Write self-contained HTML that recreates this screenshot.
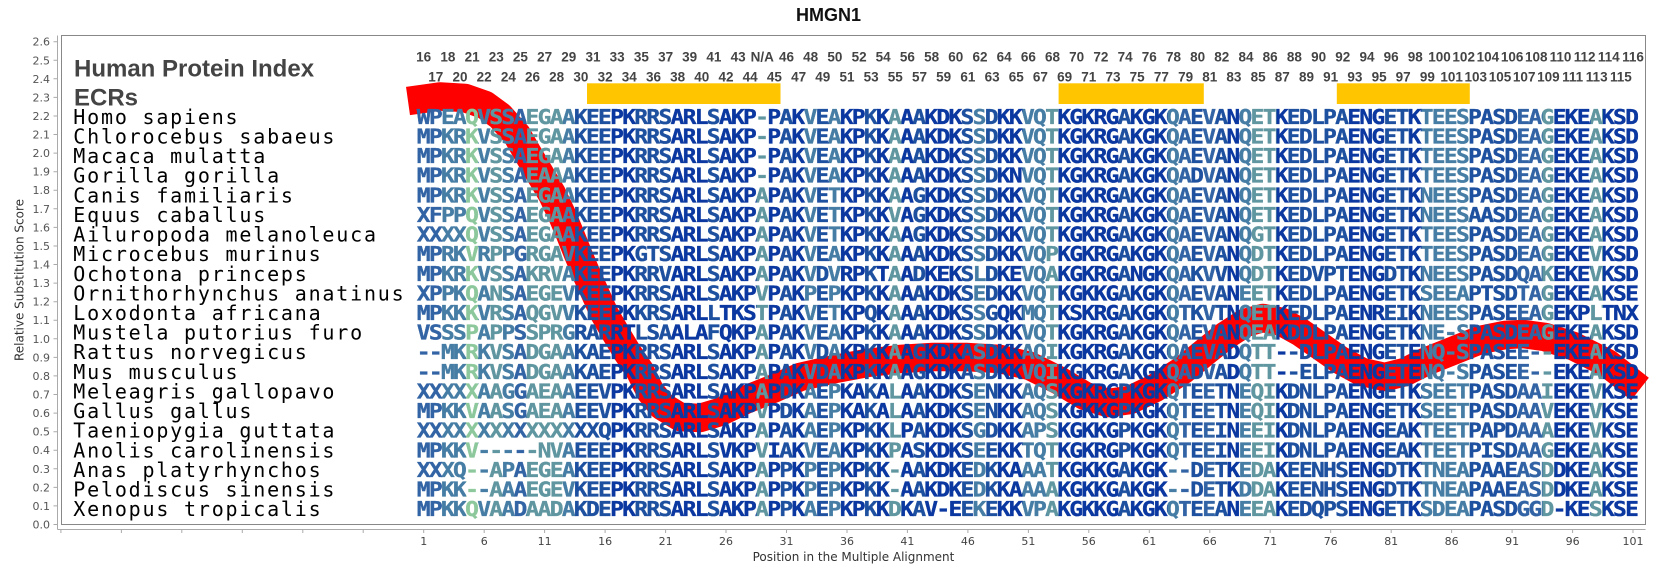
<!DOCTYPE html>
<html><head><meta charset="utf-8"><style>
body{margin:0;background:#fff}
svg{display:block}
.sp{font-family:"DejaVu Sans Mono",monospace;font-size:20px;letter-spacing:1.8px;fill:#000}
.sq{font-family:"DejaVu Sans Mono",monospace;font-weight:bold;font-size:20.5px;letter-spacing:-1.545px}
.ix{font-family:"Liberation Sans",sans-serif;font-weight:bold;font-size:13.5px;fill:#444;text-anchor:middle}
.ax{font-family:"DejaVu Sans",sans-serif;font-size:11px;fill:#555}
.hd{font-family:"Liberation Sans",sans-serif;font-weight:bold;font-size:24px;fill:#444}
</style></head><body>
<svg width="1657" height="575" viewBox="0 0 1657 575" xmlns="http://www.w3.org/2000/svg">
<defs>
<linearGradient id="cg" gradientUnits="userSpaceOnUse" x1="372.90" y1="0" x2="1463.44" y2="0">
<stop offset="0%" stop-color="#3264a5"/><stop offset="1.980%" stop-color="#3264a5"/>
<stop offset="1.980%" stop-color="#467da5"/><stop offset="3.960%" stop-color="#467da5"/>
<stop offset="3.960%" stop-color="#8cc89b"/><stop offset="4.950%" stop-color="#8cc89b"/>
<stop offset="4.950%" stop-color="#467da5"/><stop offset="5.941%" stop-color="#467da5"/>
<stop offset="5.941%" stop-color="#5f96a0"/><stop offset="6.931%" stop-color="#5f96a0"/>
<stop offset="6.931%" stop-color="#467da5"/><stop offset="7.921%" stop-color="#467da5"/>
<stop offset="7.921%" stop-color="#3264a5"/><stop offset="8.911%" stop-color="#3264a5"/>
<stop offset="8.911%" stop-color="#5f96a0"/><stop offset="11.881%" stop-color="#5f96a0"/>
<stop offset="11.881%" stop-color="#467da5"/><stop offset="12.871%" stop-color="#467da5"/>
<stop offset="12.871%" stop-color="#1e50a0"/><stop offset="15.842%" stop-color="#1e50a0"/>
<stop offset="15.842%" stop-color="#0a37a0"/><stop offset="17.822%" stop-color="#0a37a0"/>
<stop offset="17.822%" stop-color="#1e50a0"/><stop offset="20.792%" stop-color="#1e50a0"/>
<stop offset="20.792%" stop-color="#0a37a0"/><stop offset="23.762%" stop-color="#0a37a0"/>
<stop offset="23.762%" stop-color="#1e50a0"/><stop offset="24.752%" stop-color="#1e50a0"/>
<stop offset="24.752%" stop-color="#0a37a0"/><stop offset="27.723%" stop-color="#0a37a0"/>
<stop offset="27.723%" stop-color="#5f96a0"/><stop offset="28.713%" stop-color="#5f96a0"/>
<stop offset="28.713%" stop-color="#0a37a0"/><stop offset="29.703%" stop-color="#0a37a0"/>
<stop offset="29.703%" stop-color="#1e50a0"/><stop offset="30.693%" stop-color="#1e50a0"/>
<stop offset="30.693%" stop-color="#0a37a0"/><stop offset="31.683%" stop-color="#0a37a0"/>
<stop offset="31.683%" stop-color="#467da5"/><stop offset="32.673%" stop-color="#467da5"/>
<stop offset="32.673%" stop-color="#1e50a0"/><stop offset="33.663%" stop-color="#1e50a0"/>
<stop offset="33.663%" stop-color="#467da5"/><stop offset="34.653%" stop-color="#467da5"/>
<stop offset="34.653%" stop-color="#0a37a0"/><stop offset="36.634%" stop-color="#0a37a0"/>
<stop offset="36.634%" stop-color="#1e50a0"/><stop offset="37.624%" stop-color="#1e50a0"/>
<stop offset="37.624%" stop-color="#0a37a0"/><stop offset="38.614%" stop-color="#0a37a0"/>
<stop offset="38.614%" stop-color="#5f96a0"/><stop offset="39.604%" stop-color="#5f96a0"/>
<stop offset="39.604%" stop-color="#0a37a0"/><stop offset="40.594%" stop-color="#0a37a0"/>
<stop offset="40.594%" stop-color="#1e50a0"/><stop offset="41.584%" stop-color="#1e50a0"/>
<stop offset="41.584%" stop-color="#0a37a0"/><stop offset="44.554%" stop-color="#0a37a0"/>
<stop offset="44.554%" stop-color="#1e50a0"/><stop offset="45.545%" stop-color="#1e50a0"/>
<stop offset="45.545%" stop-color="#467da5"/><stop offset="46.535%" stop-color="#467da5"/>
<stop offset="46.535%" stop-color="#1e50a0"/><stop offset="47.525%" stop-color="#1e50a0"/>
<stop offset="47.525%" stop-color="#0a37a0"/><stop offset="49.505%" stop-color="#0a37a0"/>
<stop offset="49.505%" stop-color="#467da5"/><stop offset="51.485%" stop-color="#467da5"/>
<stop offset="51.485%" stop-color="#5f96a0"/><stop offset="52.475%" stop-color="#5f96a0"/>
<stop offset="52.475%" stop-color="#0a37a0"/><stop offset="57.426%" stop-color="#0a37a0"/>
<stop offset="57.426%" stop-color="#1e50a0"/><stop offset="58.416%" stop-color="#1e50a0"/>
<stop offset="58.416%" stop-color="#0a37a0"/><stop offset="61.386%" stop-color="#0a37a0"/>
<stop offset="61.386%" stop-color="#467da5"/><stop offset="62.376%" stop-color="#467da5"/>
<stop offset="62.376%" stop-color="#3264a5"/><stop offset="63.366%" stop-color="#3264a5"/>
<stop offset="63.366%" stop-color="#1e50a0"/><stop offset="64.356%" stop-color="#1e50a0"/>
<stop offset="64.356%" stop-color="#3264a5"/><stop offset="65.347%" stop-color="#3264a5"/>
<stop offset="65.347%" stop-color="#1e50a0"/><stop offset="66.337%" stop-color="#1e50a0"/>
<stop offset="66.337%" stop-color="#0a37a0"/><stop offset="67.327%" stop-color="#0a37a0"/>
<stop offset="67.327%" stop-color="#467da5"/><stop offset="68.317%" stop-color="#467da5"/>
<stop offset="68.317%" stop-color="#5f96a0"/><stop offset="70.297%" stop-color="#5f96a0"/>
<stop offset="70.297%" stop-color="#0a37a0"/><stop offset="71.287%" stop-color="#0a37a0"/>
<stop offset="71.287%" stop-color="#1e50a0"/><stop offset="76.238%" stop-color="#1e50a0"/>
<stop offset="76.238%" stop-color="#0a37a0"/><stop offset="79.208%" stop-color="#0a37a0"/>
<stop offset="79.208%" stop-color="#1e50a0"/><stop offset="81.188%" stop-color="#1e50a0"/>
<stop offset="81.188%" stop-color="#0a37a0"/><stop offset="82.178%" stop-color="#0a37a0"/>
<stop offset="82.178%" stop-color="#467da5"/><stop offset="86.139%" stop-color="#467da5"/>
<stop offset="86.139%" stop-color="#1e50a0"/><stop offset="90.099%" stop-color="#1e50a0"/>
<stop offset="90.099%" stop-color="#3264a5"/><stop offset="92.079%" stop-color="#3264a5"/>
<stop offset="92.079%" stop-color="#5f96a0"/><stop offset="93.069%" stop-color="#5f96a0"/>
<stop offset="93.069%" stop-color="#0a37a0"/><stop offset="96.040%" stop-color="#0a37a0"/>
<stop offset="96.040%" stop-color="#5f96a0"/><stop offset="97.030%" stop-color="#5f96a0"/>
<stop offset="97.030%" stop-color="#0a37a0"/><stop offset="100%" stop-color="#0a37a0"/>
</linearGradient>
</defs>
<rect width="1657" height="575" fill="#fff"/>

<text x="828.5" y="21" font-family="Liberation Sans, sans-serif" font-weight="bold" font-size="18" text-anchor="middle" fill="#111">HMGN1</text>

<!-- axes -->
<line x1="57.5" y1="35.5" x2="57.5" y2="529.5" stroke="#aaa" stroke-width="1"/>
<line x1="57.5" y1="529.5" x2="1645.5" y2="529.5" stroke="#aaa" stroke-width="1"/>
<rect x="61.5" y="35.5" width="1584" height="489" fill="none" stroke="#888" stroke-width="1"/>
<path d="M53.5 524.5H57.5M53.5 505.9H57.5M53.5 487.4H57.5M53.5 468.8H57.5M53.5 450.2H57.5M53.5 431.7H57.5M53.5 413.1H57.5M53.5 394.5H57.5M53.5 375.9H57.5M53.5 357.4H57.5M53.5 338.8H57.5M53.5 320.2H57.5M53.5 301.7H57.5M53.5 283.1H57.5M53.5 264.5H57.5M53.5 246H57.5M53.5 227.4H57.5M53.5 208.8H57.5M53.5 190.2H57.5M53.5 171.7H57.5M53.5 153.1H57.5M53.5 134.5H57.5M53.5 116H57.5M53.5 97.4H57.5M53.5 78.8H57.5M53.5 60.3H57.5M53.5 41.7H57.5" stroke="#aaa" stroke-width="1"/>
<g class="ax" text-anchor="end">
<text x="50" y="528.5">0.0</text><text x="50" y="509.9">0.1</text><text x="50" y="491.4">0.2</text><text x="50" y="472.8">0.3</text><text x="50" y="454.2">0.4</text><text x="50" y="435.7">0.5</text><text x="50" y="417.1">0.6</text><text x="50" y="398.5">0.7</text><text x="50" y="379.9">0.8</text><text x="50" y="361.4">0.9</text><text x="50" y="342.8">1.0</text><text x="50" y="324.2">1.1</text><text x="50" y="305.7">1.2</text><text x="50" y="287.1">1.3</text><text x="50" y="268.5">1.4</text><text x="50" y="250">1.5</text><text x="50" y="231.4">1.6</text><text x="50" y="212.8">1.7</text><text x="50" y="194.2">1.8</text><text x="50" y="175.7">1.9</text><text x="50" y="157.1">2.0</text><text x="50" y="138.5">2.1</text><text x="50" y="120">2.2</text><text x="50" y="101.4">2.3</text><text x="50" y="82.8">2.4</text><text x="50" y="64.3">2.5</text><text x="50" y="45.7">2.6</text>
</g>
<path d="M60.9 529.5V533M121.4 529.5V533M181.8 529.5V533M242.3 529.5V533M302.8 529.5V533M363.2 529.5V533M423.7 529.5V533M484.2 529.5V533M544.6 529.5V533M605.1 529.5V533M665.6 529.5V533M726 529.5V533M786.5 529.5V533M847 529.5V533M907.4 529.5V533M967.9 529.5V533M1028.4 529.5V533M1088.8 529.5V533M1149.3 529.5V533M1209.8 529.5V533M1270.2 529.5V533M1330.7 529.5V533M1391.2 529.5V533M1451.6 529.5V533M1512.1 529.5V533M1572.6 529.5V533M1633 529.5V533" stroke="#aaa" stroke-width="1"/>
<g class="ax" text-anchor="middle" style="fill:#444">
<text x="423.7" y="545">1</text><text x="484.2" y="545">6</text><text x="544.6" y="545">11</text><text x="605.1" y="545">16</text><text x="665.6" y="545">21</text><text x="726" y="545">26</text><text x="786.5" y="545">31</text><text x="847" y="545">36</text><text x="907.4" y="545">41</text><text x="967.9" y="545">46</text><text x="1028.4" y="545">51</text><text x="1088.8" y="545">56</text><text x="1149.3" y="545">61</text><text x="1209.8" y="545">66</text><text x="1270.2" y="545">71</text><text x="1330.7" y="545">76</text><text x="1391.2" y="545">81</text><text x="1451.6" y="545">86</text><text x="1512.1" y="545">91</text><text x="1572.6" y="545">96</text><text x="1633" y="545">101</text>
</g>
<text x="853.5" y="561" text-anchor="middle" font-family="DejaVu Sans, sans-serif" font-size="12" fill="#333">Position in the Multiple Alignment</text>
<text transform="translate(23.5,280) rotate(-90)" text-anchor="middle" font-family="DejaVu Sans, sans-serif" font-size="12" fill="#333">Relative Substitution Score</text>

<!-- header -->
<text class="hd" x="74" y="76.7">Human Protein Index</text>
<text class="hd" x="74" y="105.3">ECRs</text>

<g class="ix">
<text x="423.7" y="61.7">16</text><text x="447.9" y="61.7">18</text><text x="472.1" y="61.7">21</text><text x="496.3" y="61.7">23</text><text x="520.4" y="61.7">25</text><text x="544.6" y="61.7">27</text><text x="568.8" y="61.7">29</text><text x="593" y="61.7">31</text><text x="617.2" y="61.7">33</text><text x="641.4" y="61.7">35</text><text x="665.6" y="61.7">37</text><text x="689.7" y="61.7">39</text><text x="713.9" y="61.7">41</text><text x="738.1" y="61.7">43</text><text x="762.3" y="61.7">N/A</text><text x="786.5" y="61.7">46</text><text x="810.7" y="61.7">48</text><text x="834.9" y="61.7">50</text><text x="859.1" y="61.7">52</text><text x="883.2" y="61.7">54</text><text x="907.4" y="61.7">56</text><text x="931.6" y="61.7">58</text><text x="955.8" y="61.7">60</text><text x="980" y="61.7">62</text><text x="1004.2" y="61.7">64</text><text x="1028.4" y="61.7">66</text><text x="1052.5" y="61.7">68</text><text x="1076.7" y="61.7">70</text><text x="1100.9" y="61.7">72</text><text x="1125.1" y="61.7">74</text><text x="1149.3" y="61.7">76</text><text x="1173.5" y="61.7">78</text><text x="1197.7" y="61.7">80</text><text x="1221.8" y="61.7">82</text><text x="1246" y="61.7">84</text><text x="1270.2" y="61.7">86</text><text x="1294.4" y="61.7">88</text><text x="1318.6" y="61.7">90</text><text x="1342.8" y="61.7">92</text><text x="1367" y="61.7">94</text><text x="1391.2" y="61.7">96</text><text x="1415.3" y="61.7">98</text><text x="1439.5" y="61.7">100</text><text x="1463.7" y="61.7">102</text><text x="1487.9" y="61.7">104</text><text x="1512.1" y="61.7">106</text><text x="1536.3" y="61.7">108</text><text x="1560.5" y="61.7">110</text><text x="1584.6" y="61.7">112</text><text x="1608.8" y="61.7">114</text><text x="1633" y="61.7">116</text>
<text x="435.8" y="81.7">17</text><text x="460" y="81.7">20</text><text x="484.2" y="81.7">22</text><text x="508.4" y="81.7">24</text><text x="532.5" y="81.7">26</text><text x="556.7" y="81.7">28</text><text x="580.9" y="81.7">30</text><text x="605.1" y="81.7">32</text><text x="629.3" y="81.7">34</text><text x="653.5" y="81.7">36</text><text x="677.7" y="81.7">38</text><text x="701.8" y="81.7">40</text><text x="726" y="81.7">42</text><text x="750.2" y="81.7">44</text><text x="774.4" y="81.7">45</text><text x="798.6" y="81.7">47</text><text x="822.8" y="81.7">49</text><text x="847" y="81.7">51</text><text x="871.1" y="81.7">53</text><text x="895.3" y="81.7">55</text><text x="919.5" y="81.7">57</text><text x="943.7" y="81.7">59</text><text x="967.9" y="81.7">61</text><text x="992.1" y="81.7">63</text><text x="1016.3" y="81.7">65</text><text x="1040.4" y="81.7">67</text><text x="1064.6" y="81.7">69</text><text x="1088.8" y="81.7">71</text><text x="1113" y="81.7">73</text><text x="1137.2" y="81.7">75</text><text x="1161.4" y="81.7">77</text><text x="1185.6" y="81.7">79</text><text x="1209.8" y="81.7">81</text><text x="1233.9" y="81.7">83</text><text x="1258.1" y="81.7">85</text><text x="1282.3" y="81.7">87</text><text x="1306.5" y="81.7">89</text><text x="1330.7" y="81.7">91</text><text x="1354.9" y="81.7">93</text><text x="1379.1" y="81.7">95</text><text x="1403.2" y="81.7">97</text><text x="1427.4" y="81.7">99</text><text x="1451.6" y="81.7">101</text><text x="1475.8" y="81.7">103</text><text x="1500" y="81.7">105</text><text x="1524.2" y="81.7">107</text><text x="1548.4" y="81.7">109</text><text x="1572.6" y="81.7">111</text><text x="1596.7" y="81.7">113</text><text x="1620.9" y="81.7">115</text>
</g>

<!-- ECR bars -->
<rect x="587" y="83.3" width="193.5" height="20.7" fill="#ffc600"/>
<rect x="1058.6" y="83.3" width="145.2" height="20.7" fill="#ffc600"/>
<rect x="1336.8" y="83.3" width="133" height="20.7" fill="#ffc600"/>

<!-- species names -->
<g class="sp">
<text x="73.3" y="123.8">Homo sapiens</text>
<text x="73.3" y="143.4">Chlorocebus sabaeus</text>
<text x="73.3" y="163">Macaca mulatta</text>
<text x="73.3" y="182.7">Gorilla gorilla</text>
<text x="73.3" y="202.3">Canis familiaris</text>
<text x="73.3" y="221.9">Equus caballus</text>
<text x="73.3" y="241.5">Ailuropoda melanoleuca</text>
<text x="73.3" y="261.1">Microcebus murinus</text>
<text x="73.3" y="280.8">Ochotona princeps</text>
<text x="73.3" y="300.4">Ornithorhynchus anatinus</text>
<text x="73.3" y="320">Loxodonta africana</text>
<text x="73.3" y="339.6">Mustela putorius furo</text>
<text x="73.3" y="359.2">Rattus norvegicus</text>
<text x="73.3" y="378.9">Mus musculus</text>
<text x="73.3" y="398.5">Meleagris gallopavo</text>
<text x="73.3" y="418.1">Gallus gallus</text>
<text x="73.3" y="437.7">Taeniopygia guttata</text>
<text x="73.3" y="457.3">Anolis carolinensis</text>
<text x="73.3" y="477">Anas platyrhynchos</text>
<text x="73.3" y="496.6">Pelodiscus sinensis</text>
<text x="73.3" y="516.2">Xenopus tropicalis</text>
</g>

<!-- red score curve -->
<polyline fill="none" stroke="#ff0000" stroke-width="28.5" stroke-linejoin="round" stroke-linecap="butt" points="408,101 440,96.5 465,98 485,105 500,116 517,135 528,154 540,174 552,194 562,215 570,234 578,254 586,273 595,293 604,313 615,332 627,352 640,371 650,391 662,406 680,417 700,418 720,412 745,400 775,388 800,377 835,369 867,363 900,359 933,357 966,357 1000,359 1030,366 1060,381 1085,396 1108,403 1130,400 1155,388 1183,370 1205,352 1225,336 1245,323 1263,318 1282,322 1300,332 1320,346 1340,360 1362,372 1385,377 1405,372 1425,362 1450,352 1480,340 1505,335 1523,334 1545,337 1573,346 1607,363 1640,389"/>

<!-- sequences -->
<g transform="scale(1.12,1)">
<g class="sq" fill="url(#cg)" stroke="url(#cg)" stroke-width="0.35">
<text x="372.13" y="123.8">WPEAQVSSAEGAAKEEPKRRSARLSAKP-PAKVEAKPKKAAAKDKSSDKKVQTKGKRGAKGKQAEVANQETKEDLPAENGETKTEESPASDEAGEKEAKSD</text>
<text x="372.13" y="143.4">MPKRKVSSAEGAAKEEPKRRSARLSAKP-PAKVEAKPKKAAAKDKSSDKKVQTKGKRGAKGKQAEVANQETKEDLPAENGETKTEESPASDEAGEKEAKSD</text>
<text x="372.13" y="163">MPKRKVSSAEGAAKEEPKRRSARLSAKP-PAKVEAKPKKAAAKDKSSDKKVQTKGKRGAKGKQAEVANQETKEDLPAENGETKTEESPASDEAGEKEAKSD</text>
<text x="372.13" y="182.7">MPKRKVSSAEAAAKEEPKRRSARLSAKP-PAKVEAKPKKAAAKDKSSDKNVQTKGKRGAKGKQADVANQETKEDLPAENGETKTEESPASDEAGEKEAKSD</text>
<text x="372.13" y="202.3">MPKRKVSSAEGAAKEEPKRRSARLSAKPAPAKVETKPKKAAGKDKSSDKKVQTKGKRGAKGKQAEVANQETKEDLPAENGETKNEESPASDEAGEKEAKSD</text>
<text x="372.13" y="221.9">XFPPQVSSAEGAAKEEPKRRSARLSAKPAPAKVETKPKKVAGKDKSSDKKVQTKGKRGAKGKQAEVANQETKEDLPAENGETKNEESAASDEAGEKEAKSD</text>
<text x="372.13" y="241.5">XXXXQVSSAEGAAKEEPKRRSARLSAKPAPAKVETKPKKAAGKDKSSDKKVQTKGKRGAKGKQAEVANQGTKEDLPAENGETKTEESPASDEAGEKEAKSD</text>
<text x="372.13" y="261.1">MPRKVRPPGRGAVKEEPKGTSARLSAKPAPAKVEAKPKKAAAKDKSSDKKVQPKGKRGAKGKQAEVANQDTKEDLPAENGETKTEESPASDEAGEKEVKSD</text>
<text x="372.13" y="280.8">MPKRKVSSAKRVAKEEPKRRVARLSAKPAPAKVDVRPKTAADKEKSLDKEVQAKGKRGANGKQAKVVNQDTKEDVPTENGDTKNEESPASDQAKEKEVKSD</text>
<text x="372.13" y="300.4">XPPKQANSAEGEVKEEPKRRSARLSAKPVPAKPEPKPKKAAAKDKSEDKKVQTKGKKGAKGKQAEVANEETKEDLPAENGETKSEEAPTSDTAGEKEAKSE</text>
<text x="372.13" y="320">MPKKKVRSAQGVVKEEPKKRSARLLTKSTPAKVETKPQKAAAKDKSSGQKMQTKSKRGAKGKQTKVTNQETKEDLPAENREIKNEESPASEEAGEKPLTNX</text>
<text x="372.13" y="339.6">VSSSPAPPSSPRGRARRTLSAALAFQKPAPAKVEAKPKKAAAKDKSSDKKVQTKGKRGAKGKQAEVANQEAKDDLPAENGETKNE-SPASDEAGEKEAKSD</text>
<text x="372.13" y="359.2">--MKRKVSADGAAKAEPKRRSARLSAKPAPAKVDAKPKKAAGKDKASDKKAQIKGKRGAKGKQAEVADQTT--DLPAENGETENQ-SPASEE--EKEAKSD</text>
<text x="372.13" y="378.9">--MKRKVSADGAAKAEPKRRSARLSAKPAPAKVDAKPKKAAGKDKASDKKVQIKGKRGAKGKQADVADQTT--ELPAENGETENQ-SPASEE--EKEAKSD</text>
<text x="372.13" y="398.5">XXXXXAAGGAEAAEEVPKRRSARLSAKPAPDKAEPKAKALAAKDKSENKKAQSKGKRGPKGKQTEETNEQIKDNLPAENGETKSEETPASDAAIEKEVKSE</text>
<text x="372.13" y="418.1">MPKKVAASGAEAAEEVPKRRSARLSAKPVPDKAEPKAKALAAKDKSENKKAQSKGKKGPKGKQTEETNEQIKDNLPAENGETKSEETPASDAAVEKEVKSE</text>
<text x="372.13" y="437.7">XXXXXXXXXXXXXXXQPKRRSARLSAKPAPAKAEPKPKKLPAKDKSGDKKAPSKGKKGPKGKQTEEINEEIKDNLPAENGEAKTEETPAPDAAAEKEVKSE</text>
<text x="372.13" y="457.3">MPKKV-----NVAEEEPKRRSARLSVKPVIAKVEAKPKKPASKDKSEEKKTQTKGKRGPKGKQTEEINEEIKDNLPAENGEAKTEETPISDAAGEKEAKSE</text>
<text x="372.13" y="477">XXXQ--APAEGEAKEEPKRRSARLSAKPAPPKPEPKPKK-AAKDKEDKKAAATKGKKGAKGK--DETKEDAKEENHSENGDTKTNEAPAAEASDDKEAKSE</text>
<text x="372.13" y="496.6">MPKK--AAAEGEVKEEPKRRSARLSAKPAPPKPEPKPKK-AAKDKEDKKAAAAKGKKGAKGK--DETKDDAKEENHSENGDTKTNEAPAAEASDDKEAKSE</text>
<text x="372.13" y="516.2">MPKKQVAADAADAKDEPKRRSARLSAKPAPPKAEPKPKKDKAV-EEKEKKVPAKGKKGAKGKQTEEANEEAKEDQPSENGETKSDEAPASDGGD-KESKSE</text>
</g>
</g>
</svg>
</body></html>
